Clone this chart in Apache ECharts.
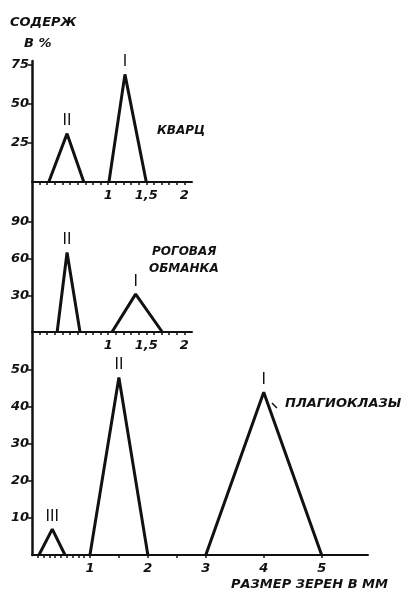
<!DOCTYPE html>
<html><head><meta charset="utf-8">
<script src="https://cdn.jsdelivr.net/npm/echarts@6/dist/echarts.min.js"></script>
<style>html,body{margin:0;padding:0;background:#fff}#c{width:410px;height:598px}</style>
</head><body><div id="c"></div>
<script>
// Кварц (quartz)
const quartzII = [[0.22,0],[0.46,31],[0.68,0]];
const quartzI  = [[1.01,0],[1.22,69],[1.50,0]];
// Роговая обманка (hornblende)
const hornII = [[0.33,0],[0.46,65],[0.63,0]];
const hornI  = [[1.05,0],[1.36,31],[1.71,0]];
// Плагиоклазы (plagioclase)
const plagIII = [[0.12,0],[0.35,7],[0.57,0]];
const plagII  = [[1.00,0],[1.50,48],[2.00,0]];
const plagI   = [[3.00,0],[4.00,44],[5.00,0]];

const quartzYLabels = [25,50,75];
const hornYLabels = [30,60,90];
const plagYLabels = [10,20,30,40,50];
const smallXLabels = [1,1.5,2];
const bigXLabels = [1,2,3,4,5];
const smallXTicks = [0.1,0.2,0.3,0.4,0.5,0.6,0.7,0.8,0.9,1,1.1,1.2,1.3,1.4,1.5,1.6,1.7,1.8,1.9,2];
const bigXTicks = [0.1,0.2,0.3,0.4,0.5,0.6,0.7,0.8,0.9,1,1.5,2,2.5,3,4,5];

const FONT = '"DejaVu Sans", sans-serif';
const lblStyle = {fontStyle:'italic', fontWeight:'bold', fontSize:13, color:'#111', fontFamily:FONT};

function xAxis(gi, max, labels, ticks){
  return {type:'value', gridIndex:gi, min:0, max:max,
    axisLine:{show:true, onZero:true, lineStyle:{color:'#111', width:2}},
    axisTick:{show:true, inside:false, length:3, customValues:ticks, lineStyle:{color:'#111', width:1.5}},
    axisLabel:Object.assign({show:true, margin:7, customValues:labels,
      formatter:v=>String(v).replace('.',',')}, lblStyle),
    splitLine:{show:false}};
}
function yAxis(gi, max, labels){
  return {type:'value', gridIndex:gi, min:0, max:max,
    axisLine:{show:false},
    axisTick:{show:true, inside:false, length:4, customValues:labels, lineStyle:{color:'#111', width:1.5}},
    axisLabel:Object.assign({show:true, margin:3, customValues:labels}, lblStyle),
    splitLine:{show:false}};
}
function peak(data, name, gx, gy){
  return {type:'line', xAxisIndex:gx, yAxisIndex:gy, symbol:'circle', symbolSize:0.01, showSymbol:true,
    silent:true, lineStyle:{color:'#111', width:3}, itemStyle:{color:'#111'}, z:5,
    label:{show:false},
    data:data.map((p,i)=> i===1 ? {value:p, label:{show:true, position:'top', distance:5,
      formatter:name, fontSize:16, color:'#111', fontFamily:'"Liberation Sans Narrow", "Liberation Sans", sans-serif'}} : p)};
}

const chart = echarts.init(document.getElementById('c'), null, {renderer:'canvas'});
chart.setOption({
  animation:false,
  backgroundColor:'#fff',
  grid:[
    {left:32, top:65, width:160, height:117},
    {left:32, top:222, width:160, height:110},
    {left:32, top:370, width:336, height:185},
    {left:32, top:61, width:10, height:494}
  ],
  xAxis:[
    xAxis(0, 2.1, smallXLabels, smallXTicks),
    xAxis(1, 2.1, smallXLabels, smallXTicks),
    xAxis(2, 5.8, bigXLabels, bigXTicks),
    {type:'value', gridIndex:3, show:false}
  ],
  yAxis:[
    yAxis(0, 75, quartzYLabels),
    yAxis(1, 90, hornYLabels),
    yAxis(2, 50, plagYLabels),
    {type:'value', gridIndex:3, min:0, max:1, axisLine:{show:true, lineStyle:{color:'#111', width:2.5}},
      axisTick:{show:false}, axisLabel:{show:false}, splitLine:{show:false}}
  ],
  series:[
    peak(quartzII,'II',0,0), peak(quartzI,'I',0,0),
    peak(hornII,'II',1,1), peak(hornI,'I',1,1),
    peak(plagIII,'III',2,2), peak(plagII,'II',2,2), peak(plagI,'I',2,2)
  ],
  graphic:[
    {type:'text', left:10, top:16, style:{text:'СОДЕРЖ', font:'italic bold 13px '+FONT, fill:'#111'}},
    {type:'text', left:24, top:37, style:{text:'В %', font:'italic bold 13px '+FONT, fill:'#111'}},
    {type:'text', left:157, top:125, style:{text:'КВАРЦ', font:'italic bold 12px '+FONT, fill:'#111'}},
    {type:'text', left:152, top:246, style:{text:'РОГОВАЯ', font:'italic bold 12px '+FONT, fill:'#111'}},
    {type:'text', left:149, top:263, style:{text:'ОБМАНКА', font:'italic bold 12px '+FONT, fill:'#111'}},
    {type:'text', left:285, top:397, style:{text:'ПЛАГИОКЛАЗЫ', font:'italic bold 13px '+FONT, fill:'#111'}},
    {type:'line', shape:{x1:272, y1:403, x2:277, y2:408}, style:{stroke:'#111', lineWidth:1.5}},
    {type:'text', left:231, top:578, style:{text:'РАЗМЕР ЗЕРЕН В ММ', font:'italic bold 13px '+FONT, fill:'#111'}}
  ]
});
</script></body></html>
